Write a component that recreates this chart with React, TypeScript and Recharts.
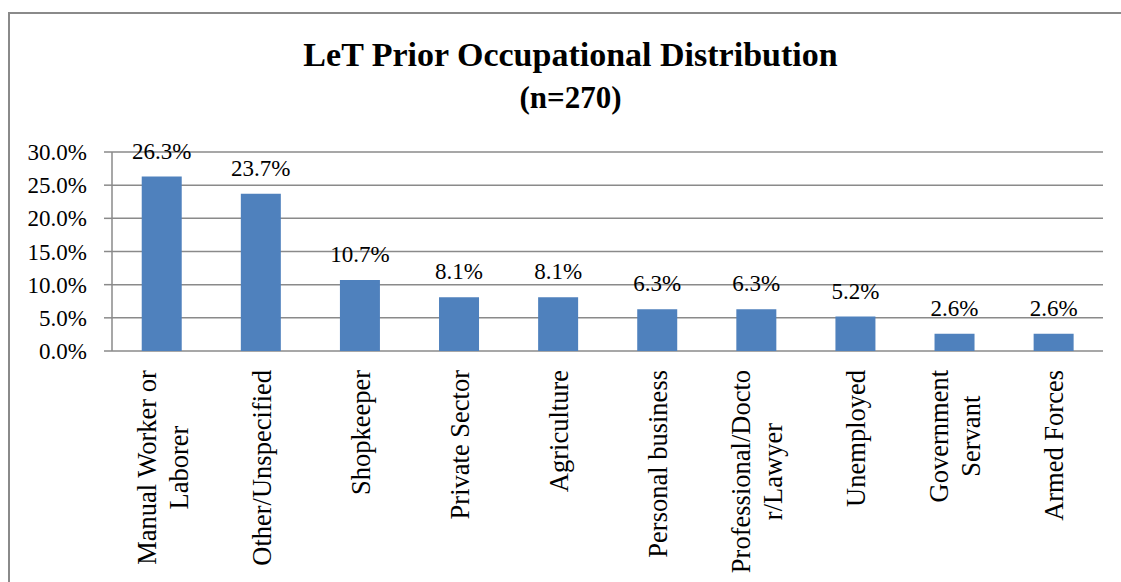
import React from 'react';
import { BarChart, Bar, XAxis, YAxis, CartesianGrid, LabelList } from 'recharts';

const categories = [
  'Manual Worker or\nLaborer',
  'Other/Unspecified',
  'Shopkeeper',
  'Private Sector',
  'Agriculture',
  'Personal business',
  'Professional/Docto\nr/Lawyer',
  'Unemployed',
  'Government\nServant',
  'Armed Forces',
];
const shares = [26.3, 23.7, 10.7, 8.1, 8.1, 6.3, 6.3, 5.2, 2.6, 2.6];
const yTicks = [0, 5, 10, 15, 20, 25, 30];
const edgeTicks = [0, 1, 2, 3, 4, 5, 6, 7, 8, 9, 10];
const titleLines = ['LeT Prior Occupational Distribution', '(n=270)'];

const data = categories.map((name, i) => ({ name, value: shares[i] }));

const FONT = "'Liberation Serif', 'Times New Roman', serif";
const GRAY = '#8a8a8a';
const BLUE = '#4F81BD';

let ctx: CanvasRenderingContext2D | null = null;
function measure(s: string, font: string): number {
  if (!ctx) ctx = document.createElement('canvas').getContext('2d');
  if (!ctx) return s.length * 12;
  ctx.font = font;
  return ctx.measureText(s).width;
}

const CategoryTick = (props: any) => {
  const { x, y, payload } = props;
  const lines = String(payload.value).split('\n');
  const fs = 26.5;
  const lh = 32;
  const widths = lines.map((l) => measure(l, `${fs}px ${FONT}`));
  const maxW = Math.max(...widths);
  const gap = 19;
  const tx = -(gap + maxW / 2);
  const n = lines.length;
  return (
    <g transform={`translate(${x},${y})`}>
      <text transform="rotate(-90)" textAnchor="middle" fontFamily={FONT} fontSize={fs} fill="#000">
        {lines.map((l, i) => (
          <tspan key={i} x={tx} y={10 + (i - (n - 1) / 2) * lh}>
            {l}
          </tspan>
        ))}
      </text>
    </g>
  );
};

const fmt = (v: any) => `${Number(v).toFixed(1)}%`;

export default function App() {
  return (
    <div
      style={{
        position: 'fixed',
        left: 0,
        top: 0,
        width: 1121,
        height: 582,
        overflow: 'hidden',
        background: '#fff',
      }}
    >
      <div
        style={{
          position: 'absolute',
          left: 8,
          top: 12,
          width: 1300,
          height: 800,
          border: `2px solid ${GRAY}`,
          boxSizing: 'border-box',
        }}
      />
      <svg width={1121} height={582} style={{ position: 'absolute', left: 0, top: 0 }}>
        <text x={570.5} y={66} textAnchor="middle" fontFamily={FONT} fontWeight="bold" fontSize={34} fill="#000">
          {titleLines[0]}
        </text>
        <text x={570.5} y={108} textAnchor="middle" fontFamily={FONT} fontWeight="bold" fontSize={31} fill="#000">
          {titleLines[1]}
        </text>
      </svg>
      <div style={{ position: 'absolute', left: 0, top: 0 }}>
        <BarChart
          width={1121}
          height={582}
          data={data}
          margin={{ top: 152, right: 18, bottom: 0, left: 0 }}
          barCategoryGap="30%"
        >
          <CartesianGrid horizontal vertical={false} stroke={GRAY} strokeWidth={1.5} />
          <XAxis
            xAxisId={0}
            type="number"
            domain={[0, 10]}
            ticks={edgeTicks}
            allowDataOverflow
            tick={false}
            tickSize={8}
            height={0}
            axisLine={{ stroke: GRAY, strokeWidth: 1.5 }}
            tickLine={{ stroke: GRAY, strokeWidth: 1.5 }}
          />
          <XAxis
            xAxisId="cat"
            dataKey="name"
            type="category"
            interval={0}
            height={231}
            axisLine={false}
            tickLine={false}
            tickSize={0}
            tickMargin={0}
            tick={<CategoryTick />}
          />
          <YAxis
            type="number"
            domain={[0, 30]}
            ticks={yTicks}
            width={112}
            tickSize={8}
            tickMargin={17}
            tickFormatter={fmt}
            axisLine={{ stroke: GRAY, strokeWidth: 1.5 }}
            tickLine={{ stroke: GRAY, strokeWidth: 1.5 }}
            tick={{ fill: '#000', fontSize: 23, fontFamily: FONT }}
          />
          <Bar xAxisId="cat" dataKey="value" fill={BLUE} isAnimationActive={false}>
            <LabelList
              dataKey="value"
              position="top"
              offset={18}
              formatter={fmt}
              fill="#000"
              fontSize={23}
              fontFamily={FONT}
            />
          </Bar>
        </BarChart>
      </div>
    </div>
  );
}
